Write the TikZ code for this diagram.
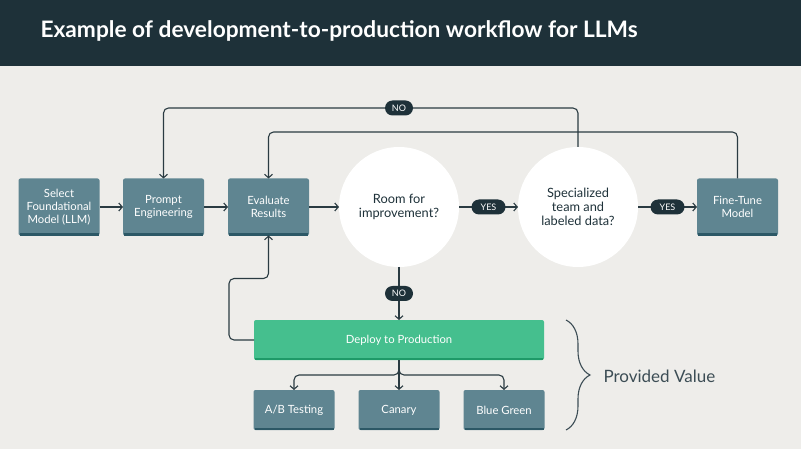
\documentclass[tikz,border=0pt]{standalone}
\usepackage{fontspec}
\setmainfont{Lato}
\usetikzlibrary{arrows.meta,positioning,decorations.pathreplacing}

\definecolor{barbg}{HTML}{1E3139}
\definecolor{pagebg}{HTML}{EEEDEA}
\definecolor{boxfill}{HTML}{5F8591}
\definecolor{boxedge}{HTML}{2C5866}
\definecolor{deployfill}{HTML}{45BF8E}
\definecolor{deployedge}{HTML}{1E9A68}
\definecolor{linecol}{HTML}{2A3B42}
\definecolor{bracecol}{HTML}{3C4D55}

\begin{document}
\begin{tikzpicture}[x=1pt,y=-1pt,->,>={Straight Barb[length=3.5pt,width=8pt]},
                    line width=1.1pt,draw=linecol,rounded corners=5pt]

  \tikzstyle{box}=[rectangle,fill=boxfill,draw=none,rounded corners=2pt,
                   minimum width=81pt,minimum height=57pt,inner sep=0pt,outer sep=0pt,
                   align=center,text=white,font=\fontsize{11.3}{13}\selectfont]
  \tikzstyle{option}=[box,minimum height=40pt]
  \tikzstyle{deploy}=[box,fill=deployfill,minimum width=290pt,minimum height=40pt]
  \tikzstyle{decision}=[circle,fill=white,draw=none,minimum size=120pt,inner sep=0pt,
                        outer sep=0pt,align=center,text=barbg,
                        font=\fontsize{12.8}{14}\selectfont]
  \tikzstyle{pill}=[rectangle,fill=barbg,draw=none,rounded corners=7.5pt,
                    minimum height=15pt,minimum width=34pt,inner sep=0pt,
                    text=white,font=\fontsize{9}{9}\selectfont]

  % page
  \fill[pagebg,rounded corners=0pt] (0,0) rectangle (801,449);
  \fill[barbg,rounded corners=0pt] (0,0) rectangle (801,66);
  \useasboundingbox (0,0) rectangle (801,449);
  \node[anchor=west,inner sep=0pt,text=white,font=\fontsize{22.7}{26}\selectfont\bfseries]
       (title) at (40,31) {Example of development-to-production workflow for LLMs};

  % main row
  \node[box]                      (SF) at (59,207) {Select\\Foundational\\Model (LLM)};
  \node[box]      [right=23.5pt of SF] (PE) {Prompt\\Engineering};
  \node[box]      [right=24pt of PE] (ER) {Evaluate\\Results};
  \node[decision] [right=30pt of ER] (RI) {Room for\\improvement?};
  \node[decision] [right=59pt of RI] (ST) {Specialized\\team and\\labeled data?};
  \node[box]      [right=59pt of ST] (FT) {Fine-Tune\\Model};

  % deployment
  \node[deploy] [below=53pt of RI] (DP) {Deploy to Production};
  \node[option] [below=30pt of DP] (CA) {Canary};
  \node[option] [left=24pt of CA]  (AB) {A/B Testing};
  \node[option] [right=24pt of CA] (BG) {Blue Green};

  \foreach \n in {SF,PE,ER,FT,AB,CA,BG}
    \draw[-,boxedge,line width=2.5pt,rounded corners=0pt]
      ([xshift=1pt,yshift=1.2pt]\n.south west) -- ([xshift=-1pt,yshift=1.2pt]\n.south east);
  \draw[-,deployedge,line width=2.5pt,rounded corners=0pt]
    ([xshift=1pt,yshift=1.2pt]DP.south west) -- ([xshift=-1pt,yshift=1.2pt]DP.south east);

  \coordinate (NOrow) at (0,108);
  \coordinate (RErow) at (0,132);

  \path[draw]
  (SF) edge (PE)
  (PE) edge (ER)
  (ER) edge (RI)
  (RI) edge node[pill] (Y1) {YES} (ST)
  (ST) edge node[pill] (Y2) {YES} (FT)
  (RI) edge node[pill,minimum width=28pt] (N2) {NO} (DP)
  (DP) edge (CA)
  ;

  % loops back
  \draw (ST.north) |- (NOrow -| PE.north) -- (PE.north);
  \node[pill,minimum width=28pt] (N1) at (RI |- NOrow) {NO};
  \draw (FT.north) |- (RErow -| ER.north) -- (ER.north);
  \draw (DP.west) -- ([xshift=-25pt]DP.west) |- ([yshift=-43pt]ER.south) -- (ER.south);
  \draw (DP.south) -- ++(0,-15pt) -| (AB.north);
  \draw (DP.south) -- ++(0,-15pt) -| (BG.north);

  % brace
  \draw[-,bracecol,line width=1.1pt,rounded corners=0pt,decorate,
        decoration={brace,amplitude=24pt}] (566,320) -- (566,430);
  \node[anchor=west,inner sep=0pt,text=bracecol,font=\fontsize{17}{19}\selectfont]
       (PV) at (603,376) {Provided Value};
\end{tikzpicture}
\end{document}
